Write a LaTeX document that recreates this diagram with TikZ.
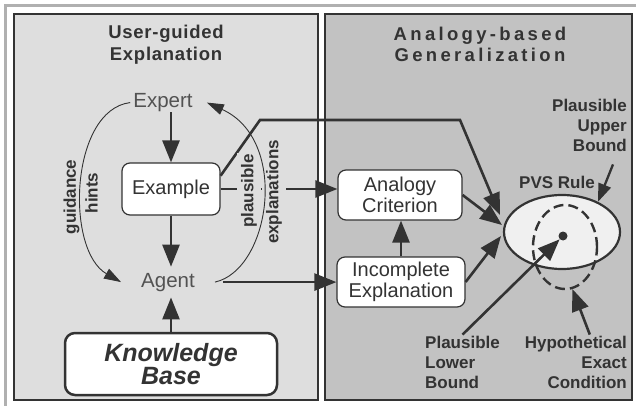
\documentclass[tikz,border=0pt]{standalone}
\usepackage{fontspec}
\setmainfont{Liberation Sans}
\newfontfamily\lsL[LetterSpace=4]{Liberation Sans}
\newfontfamily\lsR[LetterSpace=18]{Liberation Sans}
\usetikzlibrary{arrows.meta,shapes.geometric}
\definecolor{ink}{HTML}{333333}
\definecolor{leftfill}{HTML}{DEDEDE}
\definecolor{rightfill}{HTML}{C2C2C2}
\definecolor{ellfill}{HTML}{F0F0F0}
\definecolor{stripc}{HTML}{B0B0B0}
\begin{document}
\begin{tikzpicture}[x=1pt,y=-1pt,
  panel/.style={draw=ink, line width=1.6pt, inner sep=0pt},
  box/.style={draw=ink, line width=1.2pt, fill=white, rounded corners=8pt, inner sep=0pt,
    font=\fontsize{20}{21}\selectfont, text=ink, align=center},
  lbl/.style={font=\bfseries\fontsize{17}{20}\selectfont, text=ink, inner sep=1pt},
  light/.style={font=\fontsize{20.5}{22}\selectfont, text=ink!85},
  titleL/.style={font=\lsL\bfseries\fontsize{18.5}{22}\selectfont, text=ink, align=center},
  titleR/.style={font=\lsR\bfseries\fontsize{18.5}{21}\selectfont, text=ink, align=center},
  big/.style={draw=ink, line width=2.6pt, -{Triangle[length=22pt,width=17pt]}},
  mid/.style={draw=ink, line width=2.3pt, -{Triangle[length=18pt,width=13pt]}},
  thin/.style={draw=ink, line width=0.9pt, -{Triangle[length=17pt,width=11pt]}},
]
\useasboundingbox (0,0) rectangle (636,406);
\fill[white] (0,0) rectangle (636,406);
\draw[stripc, line width=3.5pt] (5.5,406) -- (5.5,5.5) -- (636,5.5);

% panels
\node[panel, fill=leftfill, minimum width=304pt, minimum height=386pt] (lpanel) at (166,207) {};
\node[panel, fill=rightfill, minimum width=307pt, minimum height=386pt] (rpanel) at (478.5,207) {};

% titles
\node[titleL] (ltitle) at (166,45) {User-guided\\Explanation};
\node[titleR] (rtitle) at (480,44) {Analogy-based\\Generalization};

% left side nodes
\node[light, inner xsep=3pt, inner ysep=0.5pt, anchor=base] (expert) at (163,107.5) {Expert};
\node[box, minimum width=98pt, minimum height=52pt] (example) at (171,189) {Example};
\node[light, inner xsep=20pt, inner ysep=6pt, anchor=base] (agent) at (168,287) {Agent};
\node[box, line width=2.5pt, rounded corners=10pt, minimum width=212pt, minimum height=62pt,
  font=\bfseries\itshape\fontsize{25}{22}\selectfont] (kb) at (171,364) {Knowledge\\Base};

% right side nodes
\node[box, minimum width=124pt, minimum height=50pt] (analogy) at (400,195) {Analogy\\Criterion};
\node[box, minimum width=128pt, minimum height=50pt] (incomplete) at (401,282) {Incomplete\\Explanation};
\node[ellipse, draw=ink, line width=2.2pt, fill=ellfill, minimum width=116pt, minimum height=74pt, inner sep=0pt] (pvs) at (562,232) {};
\node[ellipse, draw=ink, line width=2.4pt, dash pattern=on 10pt off 5pt, minimum width=64pt, minimum height=84pt, inner sep=0pt] (hyp) at (565,247) {};
\node[circle, fill=ink, minimum size=9pt, inner sep=0pt] (dot) at (563,236) {};
\node[lbl] (pvsl) at (557,182) {PVS Rule};
\node[lbl, align=right, anchor=east] (pub) at (628,125) {Plausible\\Upper\\Bound};
\node[lbl, align=left, anchor=west] (plb) at (424,362) {Plausible\\Lower\\Bound};
\node[lbl, align=right, anchor=east] (hec) at (628,362) {Hypothetical\\Exact\\Condition};

\coordinate (bendA) at (260,120);
\coordinate (bendB) at (460,120);
\coordinate (tipA) at (500,215);
\coordinate (tipB) at (502,225);
\coordinate (tipC) at (501,236);

% connectors
\draw[big] (example.north |- expert.south) -- (example.north);
\draw[big] (example.south) -- (example.south |- agent.north);
\draw[big] (kb.north) -- (kb.north |- agent.south);
\draw[big] (example.east) -- (example.east -| analogy.west);
\draw[big] (example.15) -- (bendA) -- (bendB) -- (tipA);
\draw[big] (analogy.east) -- (tipB);
\draw[big] (incomplete.east) -- (tipC);
\draw[big] (incomplete.north) -- (incomplete.north |- analogy.south);
\draw[big] ([xshift=8pt]agent.east) -- (agent.east -| incomplete.west);
\draw[big] (plb.north) -- (dot);
\draw[mid] ([xshift=-15pt,yshift=-12pt]pub.south east) -- (pvs.40);
\draw[big] ([xshift=14pt]hec.north) -- (hyp.-80);

% arc labels
\node[lbl, rotate=90] (guid) at (71.5,197) {guidance};
\node[lbl, rotate=90] (hints) at (91.5,193) {hints};
\node[lbl, rotate=90, fill=leftfill, inner ysep=4.5pt] (plaus) at (249,191) {plausible};
\node[lbl, rotate=90, fill=leftfill, inner ysep=4.5pt] (expl) at (274,192) {explanations};

% arcs
\draw[thin] (expert.west) .. controls (70,110) and (65,250) .. (agent.west);
\draw[thin] (agent.east) .. controls (270,270) and (290,140) .. ([xshift=11pt]expert.east);
\end{tikzpicture}
\end{document}
